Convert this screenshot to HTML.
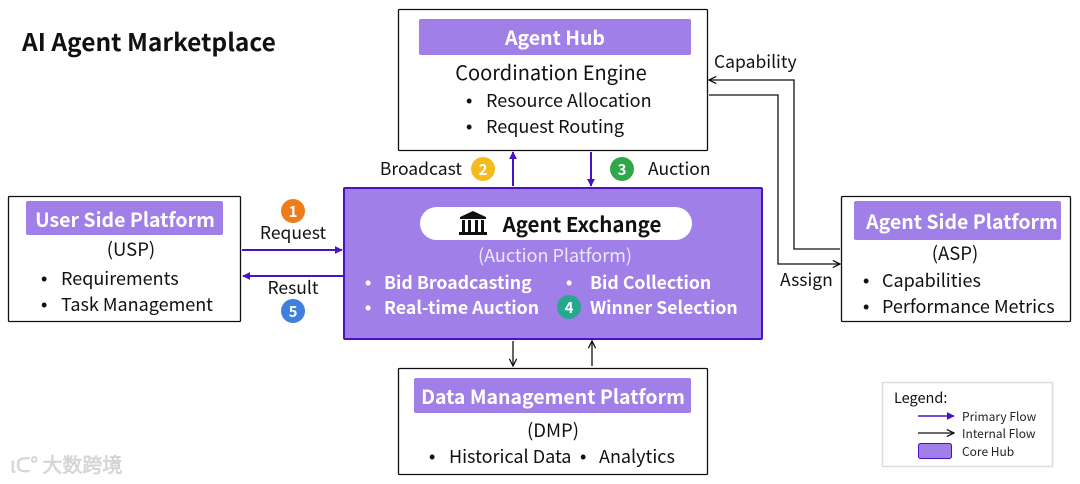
<!DOCTYPE html>
<html><head><meta charset="utf-8"><style>
html,body{margin:0;padding:0;background:#fff;}
svg{display:block;font-family:"Noto Sans CJK SC","Liberation Sans",sans-serif;}
.b{font-family:"Liberation Sans",sans-serif;}
</style></head><body>
<svg width="1080" height="484" viewBox="0 0 1080 484" xmlns="http://www.w3.org/2000/svg">
<defs>
<marker id="pa" viewBox="0 0 10 10" refX="9" refY="5" markerWidth="8" markerHeight="8" orient="auto-start-reverse" markerUnits="userSpaceOnUse"><path d="M0,0 L10,5 L0,10 z" fill="#4a12c8"/></marker>
<marker id="ba" viewBox="0 0 10 10" refX="9" refY="5" markerWidth="9" markerHeight="9" orient="auto-start-reverse" markerUnits="userSpaceOnUse"><path d="M1,1 L9,5 L1,9" fill="none" stroke="#111" stroke-width="1.4"/></marker>
</defs>
<text x="22" y="51" font-size="24.5" font-weight="bold" fill="#111">AI Agent Marketplace</text>

<!-- Agent Hub -->
<rect x="398.5" y="9.5" width="309" height="141" fill="#fff" stroke="#111" stroke-width="1.3" rx="1"/>
<rect x="419" y="19" width="272" height="36" fill="#a07fe8" rx="2"/>
<text x="555" y="45" font-size="19.5" font-weight="bold" fill="#fff" text-anchor="middle">Agent Hub</text>
<text x="551" y="80" font-size="20" fill="#111" text-anchor="middle">Coordination Engine</text>
<text class="b" x="466" y="107" font-size="18" fill="#111">•</text><text x="486" y="107" font-size="18" fill="#111">Resource Allocation</text>
<text class="b" x="466" y="133" font-size="18" fill="#111">•</text><text x="486" y="133" font-size="18" fill="#111">Request Routing</text>

<!-- Exchange -->
<rect x="344" y="188" width="418" height="151" fill="#a07fe8" stroke="#4a12c8" stroke-width="2" rx="1"/>
<rect x="420" y="207" width="272" height="33" fill="#fff" rx="16.5"/>
<g fill="#111">
<path d="M460,217 L473,211 L486,217 L486,219 L460,219 Z"/>
<rect x="462" y="220" width="3" height="12"/><rect x="468" y="220" width="3" height="12"/><rect x="475" y="220" width="3" height="12"/><rect x="481" y="220" width="3" height="12"/>
<rect x="459" y="232" width="28" height="3"/>
</g>
<text x="582" y="232" font-size="20.5" font-weight="bold" fill="#111" text-anchor="middle">Agent Exchange</text>
<text x="555" y="262" font-size="18" fill="#eee6ff" text-anchor="middle">(Auction Platform)</text>
<g font-size="17.7" font-weight="bold" fill="#fff">
<text class="b" x="365" y="289">•</text><text x="384" y="289">Bid Broadcasting</text>
<text class="b" x="566" y="289">•</text><text x="590" y="289">Bid Collection</text>
<text class="b" x="365" y="314">•</text><text x="384" y="314">Real-time Auction</text>
<text x="590" y="314">Winner Selection</text>
</g>
<circle cx="569" cy="307" r="12" fill="#26a88f"/><text x="569" y="313" font-size="15" font-weight="bold" fill="#fff" text-anchor="middle">4</text>

<!-- USP -->
<rect x="8.5" y="196.5" width="232" height="125" fill="#fff" stroke="#111" stroke-width="1.3" rx="1"/>
<rect x="26" y="201" width="197" height="34" fill="#a07fe8" rx="2"/>
<text x="125" y="227" font-size="19.5" font-weight="bold" fill="#fff" text-anchor="middle">User Side Platform</text>
<text x="131" y="256" font-size="18.5" fill="#111" text-anchor="middle">(USP)</text>
<text class="b" x="41" y="285" font-size="18" fill="#111">•</text><text x="61" y="285" font-size="18" fill="#111">Requirements</text>
<text class="b" x="41" y="311" font-size="18" fill="#111">•</text><text x="61" y="311" font-size="18" fill="#111">Task Management</text>

<!-- ASP -->
<rect x="841.5" y="196.5" width="229" height="125" fill="#fff" stroke="#111" stroke-width="1.3" rx="1"/>
<rect x="854" y="201" width="207" height="39" fill="#a07fe8" rx="2"/>
<text x="962" y="229" font-size="19.5" font-weight="bold" fill="#fff" text-anchor="middle">Agent Side Platform</text>
<text x="955" y="260" font-size="18.5" fill="#111" text-anchor="middle">(ASP)</text>
<text class="b" x="863" y="287" font-size="18" fill="#111">•</text><text x="882" y="287" font-size="18" fill="#111">Capabilities</text>
<text class="b" x="863" y="313" font-size="18" fill="#111">•</text><text x="882" y="313" font-size="18" fill="#111">Performance Metrics</text>

<!-- DMP -->
<rect x="398.5" y="368.5" width="309" height="106" fill="#fff" stroke="#111" stroke-width="1.3" rx="1"/>
<rect x="414" y="378" width="277" height="35" fill="#a07fe8" rx="2"/>
<text x="553" y="404" font-size="19.5" font-weight="bold" fill="#fff" text-anchor="middle">Data Management Platform</text>
<text x="553" y="437" font-size="18.5" fill="#111" text-anchor="middle">(DMP)</text>
<text class="b" x="429" y="463" font-size="18" fill="#111">•</text><text x="449" y="463" font-size="18" fill="#111">Historical Data</text>
<text class="b" x="580" y="463" font-size="18" fill="#111">•</text><text x="599" y="463" font-size="18" fill="#111">Analytics</text>

<!-- primary arrows -->
<g stroke="#4a12c8" stroke-width="2" fill="none">
<line x1="242" y1="250" x2="342" y2="250" marker-end="url(#pa)"/>
<line x1="343" y1="276" x2="243" y2="276" marker-end="url(#pa)"/>
<line x1="513" y1="186" x2="513" y2="152" marker-end="url(#pa)"/>
<line x1="591" y1="152" x2="591" y2="186" marker-end="url(#pa)"/>
</g>
<!-- internal -->
<g stroke="#111" stroke-width="1.3" fill="none">
<line x1="513" y1="341" x2="513" y2="366" marker-end="url(#ba)"/>
<line x1="592" y1="366" x2="592" y2="341" marker-end="url(#ba)"/>
<polyline points="840,249 794,249 794,80 709,80" marker-end="url(#ba)"/>
<polyline points="709,95 778,95 778,264 840,264" marker-end="url(#ba)"/>
</g>

<text x="293" y="239" font-size="17.5" fill="#111" text-anchor="middle">Request</text>
<circle cx="293" cy="211" r="12" fill="#f07b1a"/><text x="293" y="217" font-size="15" font-weight="bold" fill="#fff" text-anchor="middle">1</text>
<text x="293" y="294" font-size="17.5" fill="#111" text-anchor="middle">Result</text>
<circle cx="293" cy="311" r="12" fill="#3f7fe0"/><text x="293" y="317" font-size="15" font-weight="bold" fill="#fff" text-anchor="middle">5</text>
<text x="462" y="175" font-size="17.5" fill="#111" text-anchor="end">Broadcast</text>
<circle cx="483" cy="169" r="12" fill="#f5bb1a"/><text x="483" y="175" font-size="15" font-weight="bold" fill="#fff" text-anchor="middle">2</text>
<circle cx="622" cy="169" r="12" fill="#2fa84a"/><text x="622" y="175" font-size="15" font-weight="bold" fill="#fff" text-anchor="middle">3</text>
<text x="648" y="175" font-size="17.5" fill="#111">Auction</text>
<text x="714" y="68" font-size="17.5" fill="#111">Capability</text>
<text x="780" y="286" font-size="17.5" fill="#111">Assign</text>

<!-- legend -->
<rect x="882.5" y="382.5" width="170" height="84" fill="#fff" stroke="#ddd" stroke-width="1.5"/>
<text x="894" y="403" font-size="14.5" fill="#111">Legend:</text>
<line x1="918" y1="416" x2="954" y2="416" stroke="#4a12c8" stroke-width="1.5" marker-end="url(#pa)"/>
<text x="962" y="421" font-size="12" fill="#222">Primary Flow</text>
<line x1="918" y1="433" x2="954" y2="433" stroke="#111" stroke-width="1.3" marker-end="url(#ba)"/>
<text x="962" y="438" font-size="12" fill="#222">Internal Flow</text>
<rect x="918.5" y="443.5" width="33" height="15" fill="#a07fe8" stroke="#4a12c8" stroke-width="1" rx="2"/>
<text x="962" y="456" font-size="12" fill="#222">Core Hub</text>

<text x="10" y="472" font-size="20" fill="#ddd" stroke="#c8c8c8" stroke-width="0.5">ιᑕ° 大数跨境</text>
</svg>
</body></html>
